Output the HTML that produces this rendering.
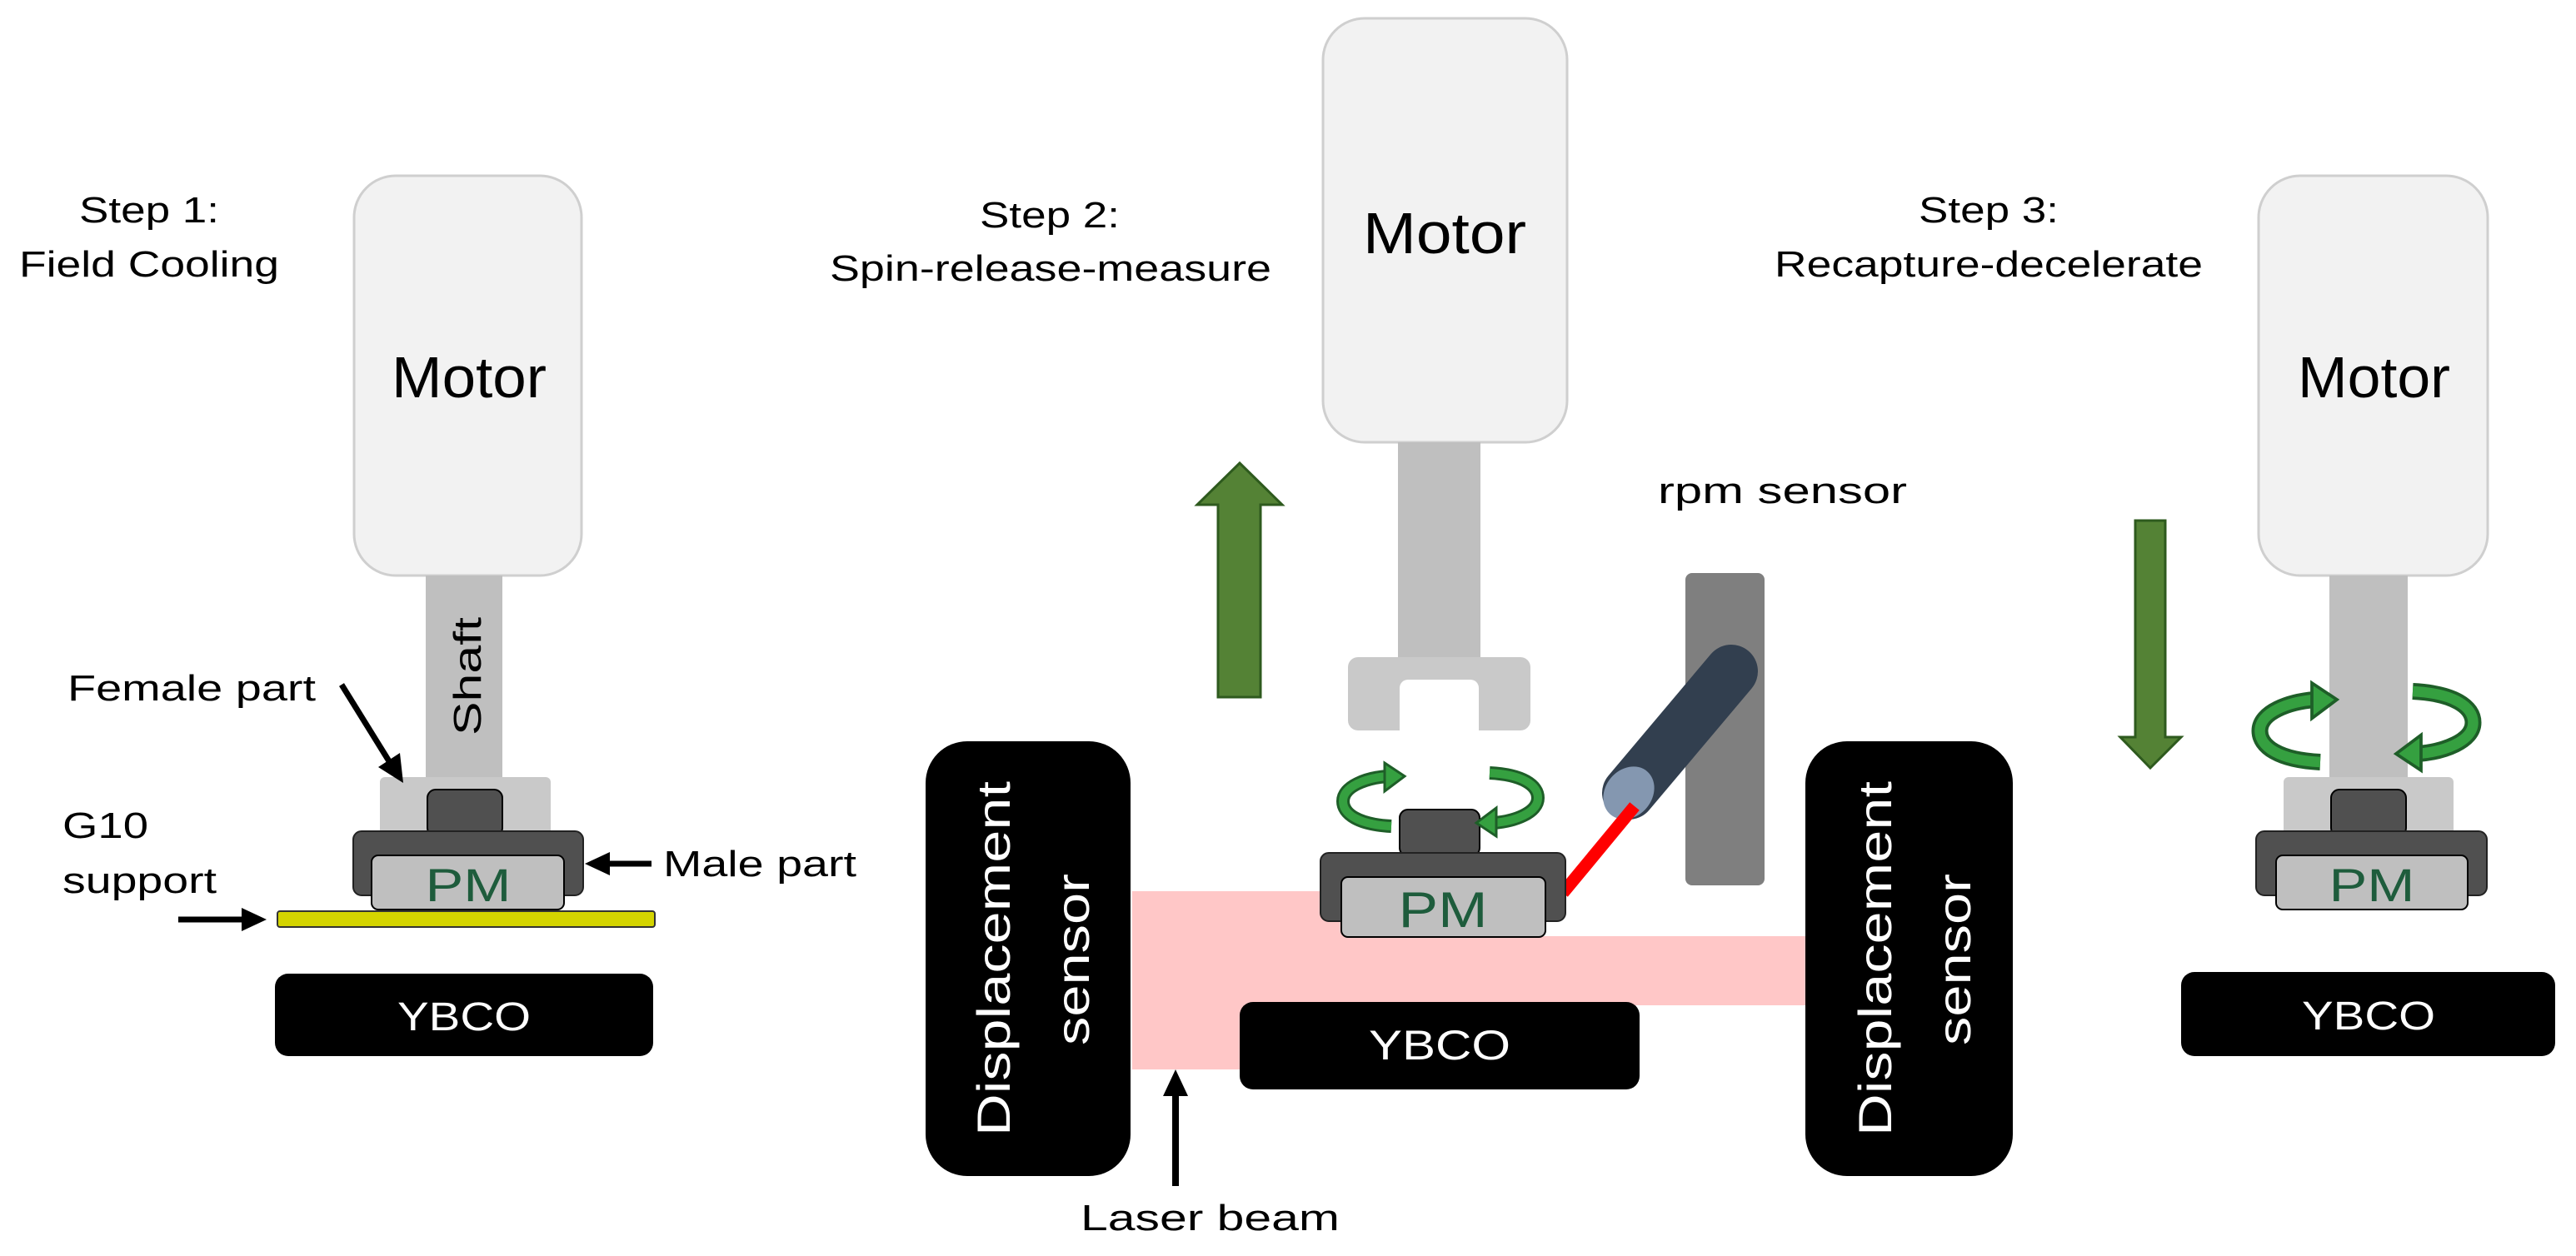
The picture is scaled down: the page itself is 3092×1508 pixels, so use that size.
<!DOCTYPE html>
<html><head><meta charset="utf-8"><style>html,body{margin:0;padding:0;background:#fff}svg{display:block}</style></head>
<body>
<svg width="3092" height="1508" viewBox="0 0 3092 1508" xmlns="http://www.w3.org/2000/svg" font-family="Liberation Sans, Arial, sans-serif">
<defs>
<g id="rotL">
<path d="M0 60 C-40 58 -58 45 -58 30 C-58 12 -30 2 -5 0" fill="none" stroke="#1e5e28" stroke-width="16"/>
<path d="M0 60 C-40 58 -58 45 -58 30 C-58 12 -30 2 -5 0" fill="none" stroke="#35a040" stroke-width="10"/>
<polygon points="-8,-16 16,0 -8,18" fill="#35a040" stroke="#1e5e28" stroke-width="3"/>
</g>
</defs>

<!-- STEP 1 -->
<text x="179" y="267" font-size="44" text-anchor="middle" textLength="168" lengthAdjust="spacingAndGlyphs">Step 1:</text>
<text x="23" y="332" font-size="44" textLength="312" lengthAdjust="spacingAndGlyphs">Field Cooling</text>
<rect x="425" y="211" width="273" height="480" rx="50" fill="#f2f2f2" stroke="#cfcfcf" stroke-width="3"/>
<text x="470" y="477" font-size="70" textLength="186" lengthAdjust="spacingAndGlyphs">Motor</text>
<rect x="511" y="691" width="92" height="245" fill="#bfbfbf"/>
<text transform="translate(577,812) rotate(-90)" font-size="46" text-anchor="middle" textLength="142" lengthAdjust="spacingAndGlyphs">Shaft</text>
<rect x="456" y="933" width="205" height="70" rx="6" fill="#c9c9c9"/>
<rect x="513" y="948" width="90" height="56" rx="10" fill="#505050" stroke="#000" stroke-width="2"/>
<rect x="424" y="998" width="276" height="77" rx="10" fill="#505050" stroke="#222" stroke-width="2"/>
<rect x="446" y="1027" width="231" height="65" rx="8" fill="#bfbfbf" stroke="#000" stroke-width="2"/>
<text x="562" y="1082" font-size="56" fill="#1e5c3c" text-anchor="middle" textLength="103" lengthAdjust="spacingAndGlyphs">PM</text>
<rect x="333" y="1094" width="453" height="19" rx="3" fill="#d4d400" stroke="#333" stroke-width="2"/>
<rect x="330" y="1169" width="454" height="99" rx="16" fill="#000"/>
<text x="557" y="1237" font-size="48" fill="#fff" text-anchor="middle" textLength="160" lengthAdjust="spacingAndGlyphs">YBCO</text>
<text x="81" y="841" font-size="44" textLength="298" lengthAdjust="spacingAndGlyphs">Female part</text>
<line x1="410" y1="822" x2="472" y2="922" stroke="#000" stroke-width="7"/>
<polygon points="484,940 454,921 480,904" fill="#000"/>
<text x="75" y="1006" font-size="44" textLength="103" lengthAdjust="spacingAndGlyphs">G10</text>
<text x="75" y="1072" font-size="44" textLength="185" lengthAdjust="spacingAndGlyphs">support</text>
<line x1="214" y1="1104" x2="295" y2="1104" stroke="#000" stroke-width="7"/>
<polygon points="320,1104 290,1090 290,1118" fill="#000"/>
<line x1="782" y1="1037" x2="725" y2="1037" stroke="#000" stroke-width="7"/>
<polygon points="702,1037 732,1023 732,1051" fill="#000"/>
<text x="796" y="1052" font-size="44" textLength="232" lengthAdjust="spacingAndGlyphs">Male part</text>

<!-- STEP 2 -->
<text x="1260" y="273" font-size="44" text-anchor="middle" textLength="168" lengthAdjust="spacingAndGlyphs">Step 2:</text>
<text x="996" y="337" font-size="44" textLength="530" lengthAdjust="spacingAndGlyphs">Spin-release-measure</text>
<rect x="1588" y="22" width="293" height="509" rx="50" fill="#f2f2f2" stroke="#cfcfcf" stroke-width="3"/>
<text x="1636" y="304" font-size="70" textLength="196" lengthAdjust="spacingAndGlyphs">Motor</text>
<rect x="1678" y="531" width="99" height="262" fill="#bfbfbf"/>
<rect x="1618" y="789" width="219" height="88" rx="12" fill="#c9c9c9"/>
<rect x="1680" y="816" width="95" height="83" rx="10" fill="#fff"/>
<polygon points="1488,556 1539,606 1513,606 1513,837 1462,837 1462,606 1437,606" fill="#548235" stroke="#2e5a1e" stroke-width="3"/>
<text x="1990" y="604" font-size="44" textLength="299" lengthAdjust="spacingAndGlyphs">rpm sensor</text>
<rect x="1359" y="1070" width="260" height="214" fill="#ffc7c7"/>
<rect x="1359" y="1124" width="812" height="83" fill="#ffc7c7"/>
<rect x="2023" y="688" width="95" height="375" rx="8" fill="#7f7f7f"/>
<line x1="1955" y1="952" x2="2078" y2="806" stroke="#323f4f" stroke-width="64" stroke-linecap="round"/>
<ellipse cx="1955" cy="952" rx="34" ry="28" transform="rotate(-50 1955 952)" fill="#8497b0"/>
<line x1="1876" y1="1072" x2="1962" y2="968" stroke="#ff0000" stroke-width="15"/>
<rect x="1680" y="972" width="96" height="56" rx="10" fill="#505050" stroke="#000" stroke-width="2"/>
<rect x="1585" y="1024" width="294" height="82" rx="10" fill="#505050" stroke="#222" stroke-width="2"/>
<rect x="1610" y="1053" width="245" height="72" rx="8" fill="#bfbfbf" stroke="#000" stroke-width="2"/>
<text x="1732" y="1113" font-size="60" fill="#1e5c3c" text-anchor="middle" textLength="107" lengthAdjust="spacingAndGlyphs">PM</text>
<use href="#rotL" transform="translate(1670,932)"/>
<use href="#rotL" transform="translate(1788,988) scale(-1,-1)"/>
<rect x="1488" y="1203" width="480" height="105" rx="16" fill="#000"/>
<text x="1728" y="1272" font-size="50" fill="#fff" text-anchor="middle" textLength="170" lengthAdjust="spacingAndGlyphs">YBCO</text>
<rect x="1111" y="890" width="246" height="522" rx="50" fill="#000"/>
<text transform="translate(1212,1151) rotate(-90)" font-size="56" fill="#fff" text-anchor="middle" textLength="426" lengthAdjust="spacingAndGlyphs">Displacement</text>
<text transform="translate(1307,1152) rotate(-90)" font-size="56" fill="#fff" text-anchor="middle" textLength="206" lengthAdjust="spacingAndGlyphs">sensor</text>
<line x1="1411" y1="1424" x2="1411" y2="1310" stroke="#000" stroke-width="8"/>
<polygon points="1411,1284 1396,1316 1426,1316" fill="#000"/>
<text x="1297" y="1477" font-size="44" textLength="311" lengthAdjust="spacingAndGlyphs">Laser beam</text>
<rect x="2167" y="890" width="249" height="522" rx="50" fill="#000"/>
<text transform="translate(2270,1151) rotate(-90)" font-size="56" fill="#fff" text-anchor="middle" textLength="426" lengthAdjust="spacingAndGlyphs">Displacement</text>
<text transform="translate(2365,1152) rotate(-90)" font-size="56" fill="#fff" text-anchor="middle" textLength="206" lengthAdjust="spacingAndGlyphs">sensor</text>

<!-- STEP 3 -->
<text x="2387" y="267" font-size="44" text-anchor="middle" textLength="168" lengthAdjust="spacingAndGlyphs">Step 3:</text>
<text x="2130" y="332" font-size="44" textLength="514" lengthAdjust="spacingAndGlyphs">Recapture-decelerate</text>
<rect x="2711" y="211" width="275" height="480" rx="50" fill="#f2f2f2" stroke="#cfcfcf" stroke-width="3"/>
<text x="2758" y="477" font-size="70" textLength="183" lengthAdjust="spacingAndGlyphs">Motor</text>
<rect x="2796" y="691" width="94" height="245" fill="#bfbfbf"/>
<rect x="2741" y="933" width="204" height="70" rx="6" fill="#c9c9c9"/>
<rect x="2798" y="948" width="90" height="56" rx="10" fill="#505050" stroke="#000" stroke-width="2"/>
<rect x="2708" y="998" width="277" height="77" rx="10" fill="#505050" stroke="#222" stroke-width="2"/>
<rect x="2732" y="1027" width="230" height="65" rx="8" fill="#bfbfbf" stroke="#000" stroke-width="2"/>
<text x="2847" y="1082" font-size="56" fill="#1e5c3c" text-anchor="middle" textLength="103" lengthAdjust="spacingAndGlyphs">PM</text>
<use href="#rotL" transform="translate(2785,840) scale(1.25)"/>
<use href="#rotL" transform="translate(2896,905) scale(-1.25,-1.25)"/>
<polygon points="2563,625 2599,625 2599,885 2618,885 2581,922 2545,885 2563,885" fill="#548235" stroke="#2e5a1e" stroke-width="3"/>
<rect x="2618" y="1167" width="449" height="101" rx="16" fill="#000"/>
<text x="2843" y="1236" font-size="48" fill="#fff" text-anchor="middle" textLength="160" lengthAdjust="spacingAndGlyphs">YBCO</text>
</svg>
</body></html>
